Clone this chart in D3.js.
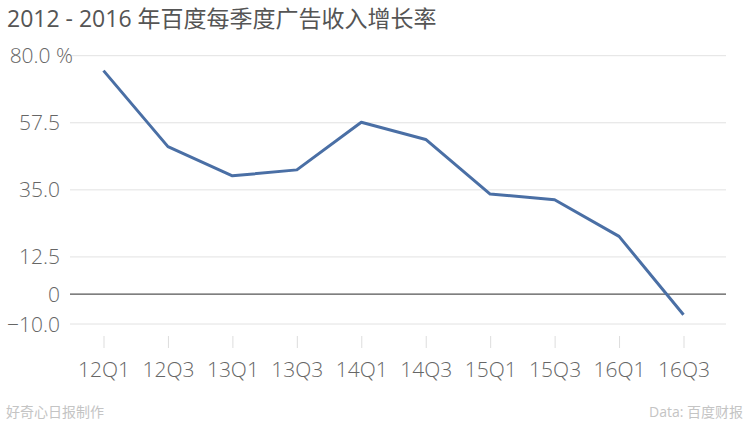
<!doctype html>
<html lang="zh">
<head>
<meta charset="utf-8">
<title>百度每季度广告收入增长率</title>
<style>
    body {
        margin: 0;
        background: #fff;
        font-family: 'Open Sans', 'Noto Sans CJK SC', sans-serif;
    }
    #chart text {
        font-family: 'Open Sans', 'Noto Sans CJK SC', sans-serif;
    }
    #chart .light {
        font-weight: 300;
    }
</style>
<script src="https://d3js.org/d3.v7.min.js"></script>
</head>
<body>
<svg id="chart" width="750" height="422"></svg>
<script>
    var quarters = ["12Q1", "12Q3", "13Q1", "13Q3", "14Q1", "14Q3", "15Q1", "15Q3", "16Q1", "16Q3"];
    var growth = [75.0, 49.5, 39.7, 41.7, 57.7, 51.9, 33.6, 31.7, 19.4, -6.9];
    var yTicks = [-10, 0, 12.5, 35, 57.5, 80];

    var svg = d3.select("#chart");

    var x = d3.scalePoint().domain(quarters).range([103.5, 683.5]);
    var y = d3.scaleLinear().domain([-10, 80]).range([324, 55.7]);

    // title
    svg.append("text")
        .attr("x", 7)
        .attr("y", 27)
        .attr("fill", "#555")
        .style("font-size", "23px")
        .text("2012 - 2016 年百度每季度广告收入增长率");

    // grid lines
    svg.append("g")
        .selectAll("line")
        .data(yTicks)
        .join("line")
        .attr("x1", 70)
        .attr("x2", 726)
        .attr("y1", function (d) { return y(d) })
        .attr("y2", function (d) { return y(d) })
        .attr("stroke", function (d) { return d === 0 ? "#555" : "#e2e2e2" })
        .attr("stroke-width", function (d) { return d === 0 ? 1.3 : 1 });

    // y labels
    svg.append("g")
        .selectAll("text")
        .data(yTicks)
        .join("text")
        .attr("class", "light")
        .attr("x", function (d) { return d === 80 ? 73 : 60 })
        .attr("y", function (d) { return y(d) })
        .attr("dy", "0.36em")
        .attr("text-anchor", "end")
        .attr("fill", "#666")
        .style("font-size", "21px")
        .text(function (d) {
            if (d === 0) return "0";
            if (d === 80) return "80.0 %";
            return d3.format(".1f")(d);
        });

    // x axis: separate short ticks and labels
    var xAxis = svg.append("g")
        .attr("transform", "translate(0,336)")
        .call(d3.axisBottom(x).tickSize(12).tickPadding(14));
    xAxis.select(".domain").remove();
    xAxis.selectAll(".tick line").attr("stroke", "#ddd");
    xAxis.selectAll(".tick text")
        .attr("class", "light")
        .attr("fill", "#666")
        .style("font-size", "21px");

    // line
    var line = d3.line()
        .x(function (d, i) { return x(quarters[i]) })
        .y(function (d) { return y(d) });

    svg.append("path")
        .datum(growth)
        .attr("fill", "none")
        .attr("stroke", "#4a6fa5")
        .attr("stroke-width", 3)
        .attr("stroke-linejoin", "round")
        .attr("d", line);

    // footer
    svg.append("text")
        .attr("x", 6)
        .attr("y", 417)
        .attr("fill", "#c4c4c4")
        .style("font-size", "14px")
        .text("好奇心日报制作");

    svg.append("text")
        .attr("x", 743)
        .attr("y", 417)
        .attr("text-anchor", "end")
        .attr("fill", "#c4c4c4")
        .style("font-size", "14px")
        .text("Data: 百度财报");
</script>
</body>
</html>
